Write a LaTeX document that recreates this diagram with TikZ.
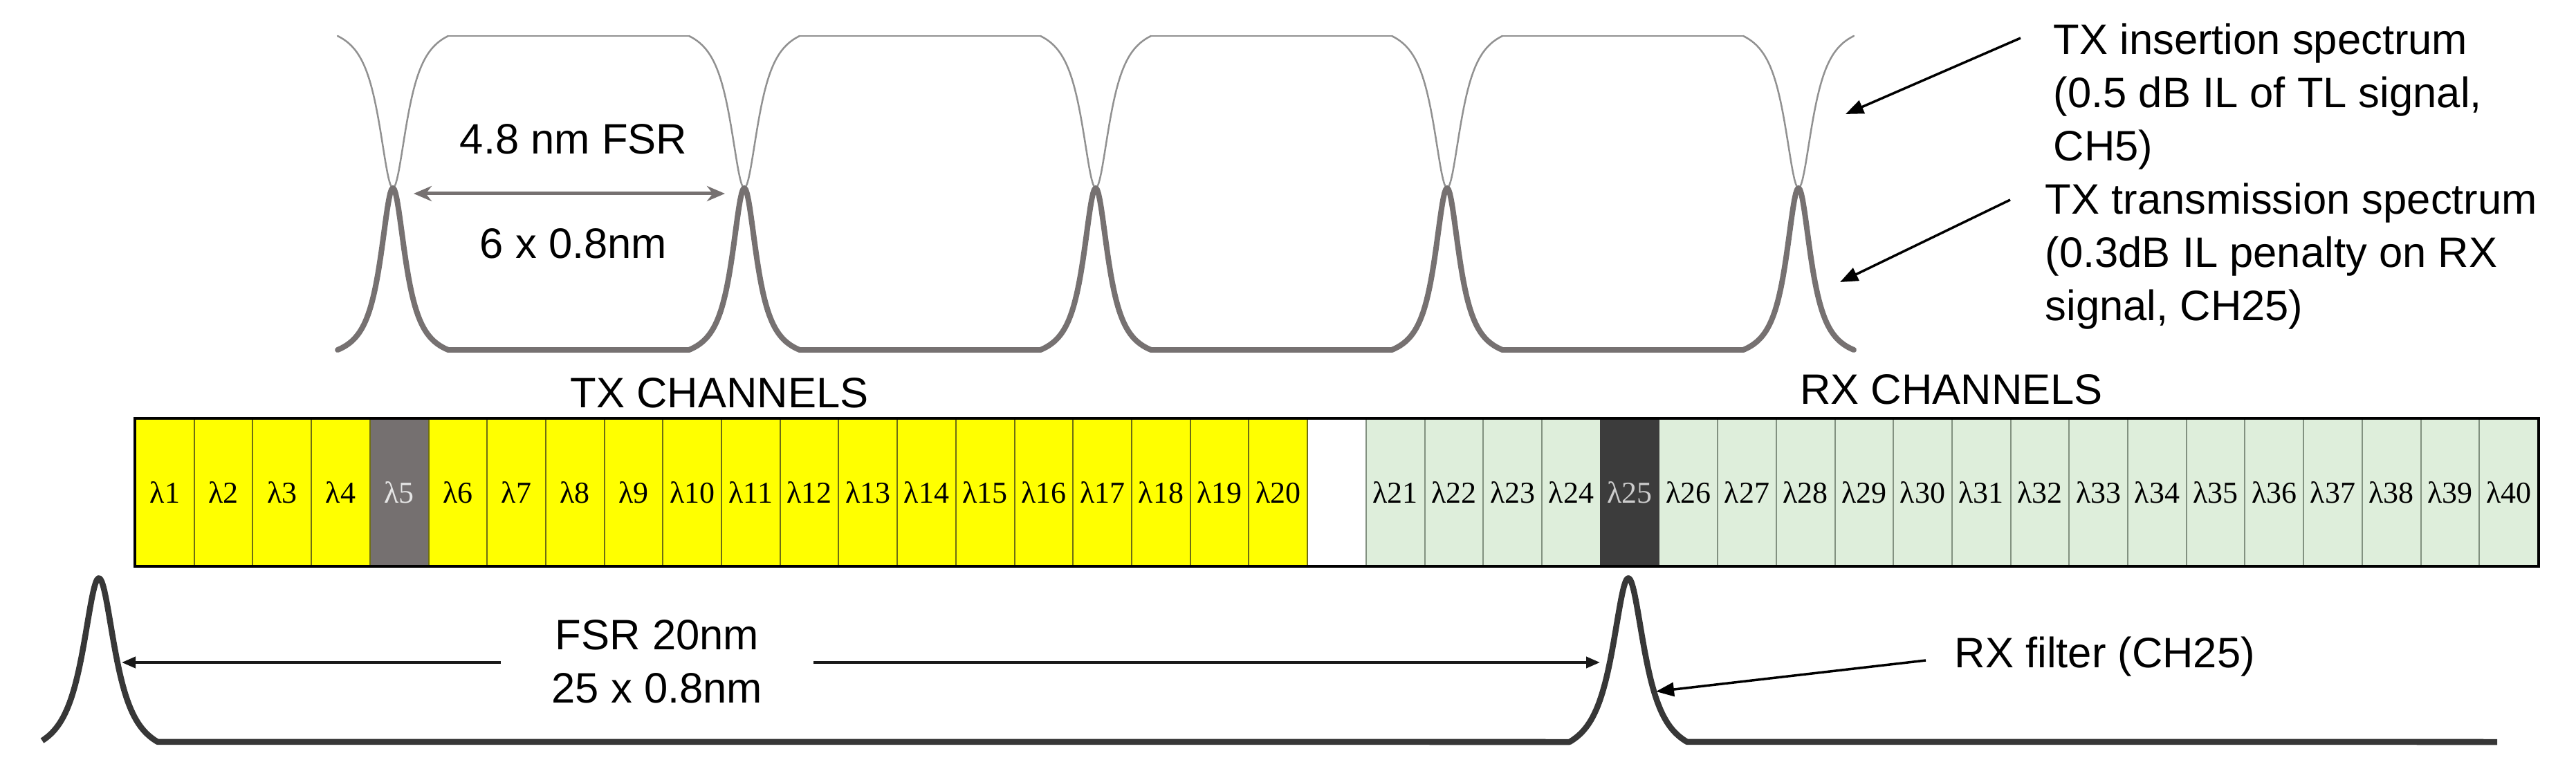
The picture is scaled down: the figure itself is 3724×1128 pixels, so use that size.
\documentclass[tikz,border=0pt]{standalone}
\usepackage{fontspec}
\setmainfont{Liberation Sans}
\newfontfamily\lamfont{Liberation Serif}
\usetikzlibrary{arrows.meta,calc}
\definecolor{thinspec}{RGB}{145,145,145}
\definecolor{thickspec}{RGB}{118,113,113}
\definecolor{txyellow}{RGB}{255,255,0}
\definecolor{txsep}{RGB}{110,110,20}
\definecolor{rxgreen}{RGB}{222,238,219}
\definecolor{rxsep}{RGB}{130,145,128}
\definecolor{chfive}{RGB}{117,112,112}
\definecolor{chtwentyfive}{RGB}{60,60,60}
\definecolor{filterline}{RGB}{55,55,55}
\begin{document}
\begin{tikzpicture}[x=0.01cm,y=-0.01cm,
  txt/.style={font=\fontsize{17.5}{21.9}\selectfont, inner sep=0pt},
  thinsp/.style={draw=thinspec, line width=0.025cm, line cap=round},
  thicksp/.style={draw=thickspec, line width=0.08cm, line cap=round, line join=round},
  cellbase/.style={minimum width=0.847cm, minimum height=2.12cm, inner sep=0pt, font=\lamfont\fontsize{12.5}{14}\selectfont, line width=0.02cm},
  txcell/.style={cellbase, fill=txyellow, draw=txsep},
  rxcell/.style={cellbase, fill=rxgreen, draw=rxsep},
  tselcell/.style={cellbase, fill=chfive, draw=txsep, text=white!90!black},
  rselcell/.style={cellbase, fill=chtwentyfive, draw=chtwentyfive, text=white!80!black},
  annarrow/.style={draw=black, line width=0.035cm, -{Triangle[length=0.26cm,width=0.2cm]}},
  fsrarrow/.style={draw=black!90, line width=0.04cm, {Triangle[length=0.2cm,width=0.16cm]}-{Triangle[length=0.2cm,width=0.16cm]}},
  grayarrow/.style={draw=thickspec, line width=0.05cm, {Stealth[length=0.26cm,width=0.22cm]}-{Stealth[length=0.26cm,width=0.22cm]}},
  filt/.style={draw=filterline, line width=0.085cm, line join=round}
]
\useasboundingbox (0,0) rectangle (3724,1128);

% --- top: TX insertion (thin) and transmission (thick) spectra
\foreach \p in {568,1076,1584,2092,2600}{
  \draw[thinsp] plot[domain=-80:80, samples=81] ({\p+\x},{52+220*(1/(1+(\x/25)*(\x/25))-0.089)/0.911});
}
\foreach \p in {568,1076,1584,2092}{
  \draw[thinsp] ({\p+80},52) -- ({\p+428},52);
}
\foreach \p in {568,1076,1584,2092,2600}{
  \draw[thicksp] plot[domain=-80:80, samples=81] ({\p+\x},{506-234*(1/(1+(\x/22)*(\x/22))-0.0703)/0.9297});
}
\foreach \p in {568,1076,1584,2092}{
  \draw[thicksp] ({\p+80},506) -- ({\p+428},506);
}

% FSR 4.8 nm
\node[txt] (fsr48) at (829,201) {4.8 nm FSR};
\node[txt] (six) at (829,352) {6 x 0.8nm};
\coordinate (dA) at (598,280);
\coordinate (dB) at (1048,280);
\draw[grayarrow] (dA) -- (dB);

% right annotations
\node[txt, anchor=north west, align=left] (ins) at (2968,33) {TX insertion spectrum\\(0.5 dB IL of TL signal,\\CH5)};
\node[txt, anchor=north west, align=left] (trn) at (2956,264) {TX transmission spectrum\\(0.3dB IL penalty on RX\\signal, CH25)};
\coordinate (insTip) at (2668,165);
\coordinate (trTip) at (2660,408);
\draw[annarrow] ($(ins.north west)+(-47,22)$) -- (insTip);
\draw[annarrow] ($(trn.north west)+(-50,25)$) -- (trTip);

% channel headings
\node[txt] (txh) at (1040,568) {TX CHANNELS};
\node[txt] (rxh) at (2821,563) {RX CHANNELS};

% channel cells
\foreach \i in {1,2,3,4,6,7,...,20}{
  \node[txcell] (tx\i) at ({196+(\i-0.5)*84.707},712) {λ\i};
}
\node[tselcell] (tx5) at ({196+4.5*84.707},712) {λ5};
\foreach \i in {21,22,23,24,26,27,...,40}{
  \node[rxcell] (rx\i) at ({196+(\i+0.5)*84.707},712) {λ\i};
}
\node[rselcell] (rx25) at ({196+25.5*84.707},712) {λ25};
\draw[black, line width=0.04cm] (tx1.north west) rectangle (rx40.south east);

% bottom: RX filter
\draw[filt] plot[domain=-82:85, samples=90] ({143+\x},{1073-237*(1/(1+(\x/29)*(\x/29))-0.104)/0.896})
  -- (2269,1073)
  -- plot[domain=-85:85, samples=90] ({2354+\x},{1073-237*(1/(1+(\x/29)*(\x/29))-0.104)/0.896})
  -- (3610,1073);
\coordinate (fsrA) at (176,958);
\coordinate (fsrB) at (2313,958);
\draw[fsrarrow] (fsrA) -- (fsrB);
\node[txt, fill=white, align=center, minimum width=4.51cm, minimum height=1.6cm] (fsr20) at (950,957) {FSR 20nm\\25 x 0.8nm};

\node[txt, anchor=west] (rxf) at (2825,950) {RX filter (CH25)};
\coordinate (rxTip) at (2394,1000);
\draw[annarrow] ($(rxf.west)+(-41,5)$) -- (rxTip);
\end{tikzpicture}
\end{document}
